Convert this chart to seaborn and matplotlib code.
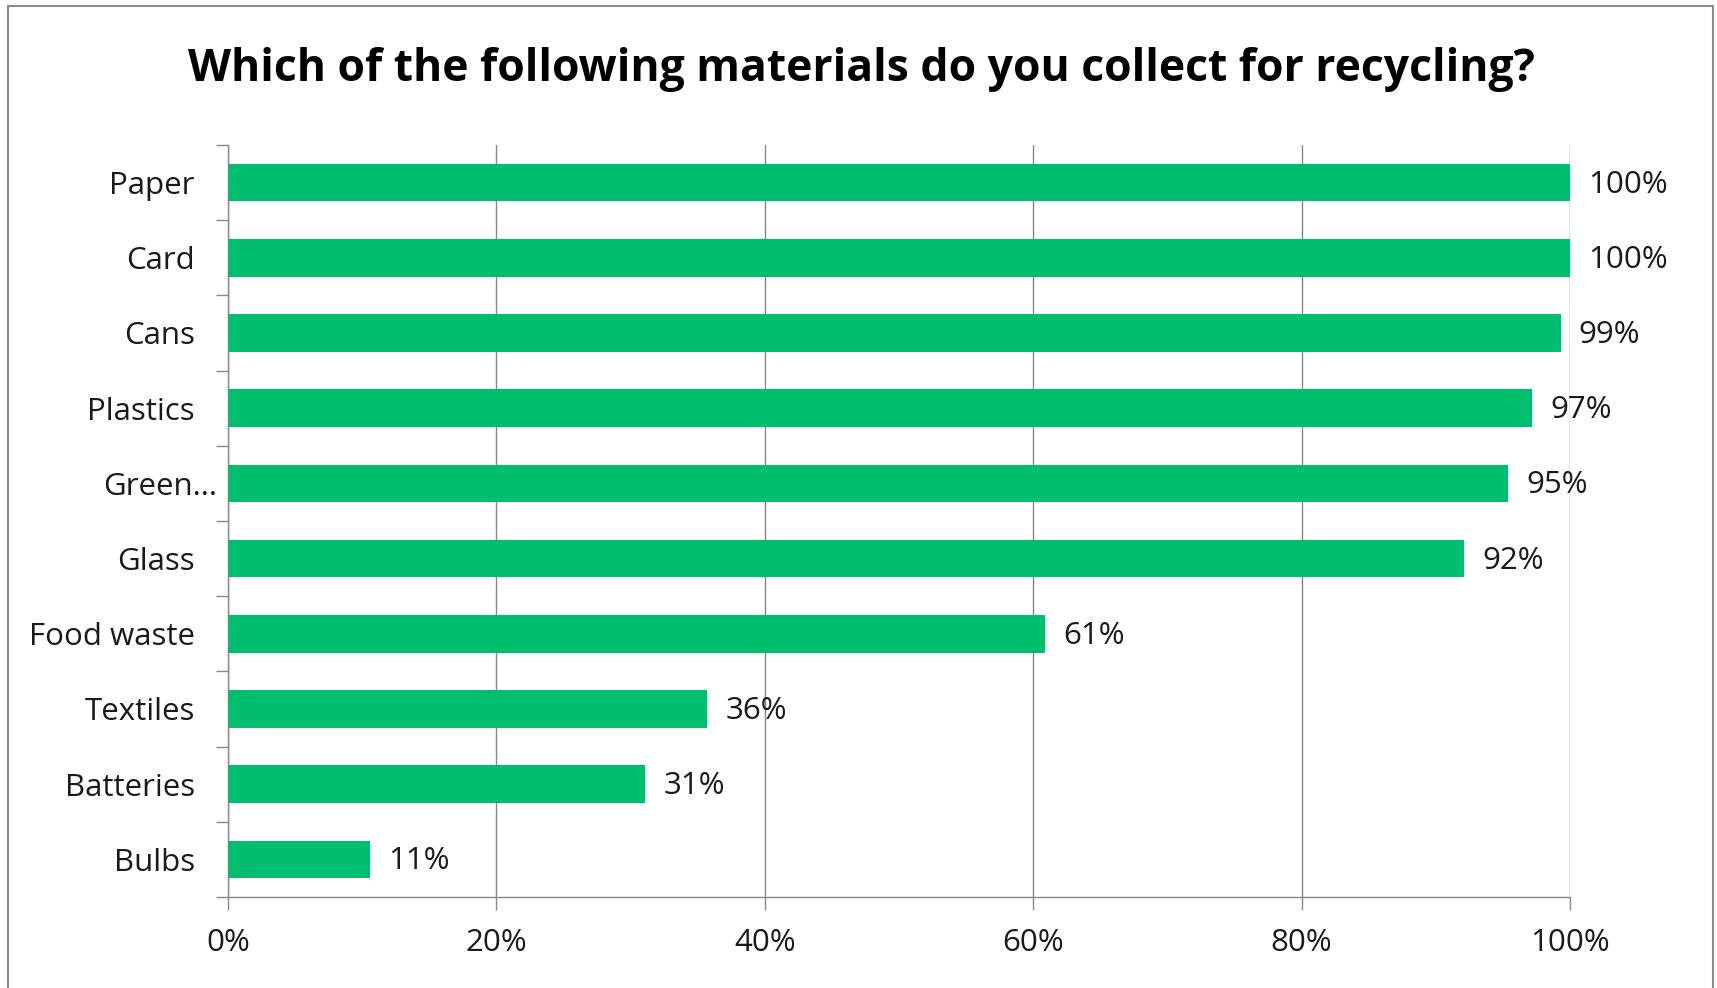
import matplotlib
matplotlib.use("Agg")
import matplotlib.pyplot as plt
import matplotlib.transforms as mtransforms
import seaborn as sns
import pandas as pd
from matplotlib.patches import Rectangle

# ---- data ----
categories = ["Paper", "Card", "Cans", "Plastics", "Green...", "Glass",
              "Food waste", "Textiles", "Batteries", "Bulbs"]
values = [100.0, 100.0, 99.3, 97.2, 95.4, 92.1, 60.9, 35.7, 31.1, 10.6]
x_ticks = [0, 20, 40, 60, 80, 100]
x_tick_labels = ["0%", "20%", "40%", "60%", "80%", "100%"]
title = "Which of the following materials do you collect for recycling?"

BAR_COLOR = "#00BE6E"
GRID_COLOR = "#888888"
TEXT_COLOR = "#1a1a1a"
FS = 22.5

sns.set_theme(style="white")
plt.rcParams["font.family"] = ["Open Sans", "DejaVu Sans"]

df = pd.DataFrame({"category": categories, "value": values})

fig = plt.figure(figsize=(17.17, 9.88), dpi=100)
ax = fig.add_axes([228 / 1717, 1 - 897 / 988, (1570 - 228) / 1717, (897 - 145) / 988])

sns.barplot(data=df, x="value", y="category", orient="h", color=BAR_COLOR,
            width=0.5, linewidth=0, saturation=1, ax=ax, zorder=3)

ax.set_xlim(0, 100)
n = len(categories)
ax.set_ylim(n - 0.5, -0.5)

# x axis
ax.set_xticks(x_ticks)
ax.set_xticklabels(x_tick_labels, fontsize=FS, color=TEXT_COLOR)
ax.tick_params(axis="x", direction="out", length=9, width=1.0, color=GRID_COLOR,
               pad=13, bottom=True)
ax.grid(axis="x", color=GRID_COLOR, linewidth=1.0, zorder=0)
ax.set_axisbelow(True)

# y axis: ticks at category boundaries, labels at centres
ax.set_yticks([i - 0.5 for i in range(n + 1)])
ax.set_yticklabels([])
ax.set_yticks(list(range(n)), minor=True)
ax.set_yticklabels(categories, minor=True, fontsize=FS, color=TEXT_COLOR)
ax.tick_params(axis="y", which="major", direction="out", length=9, width=1.0,
               color=GRID_COLOR, left=True)
ax.tick_params(axis="y", which="minor", length=0, pad=24)

# the truncated label overflows to the right, as in the original
for lbl in ax.get_yticklabels(minor=True):
    if lbl.get_text().endswith("..."):
        lbl.set_transform(lbl.get_transform() +
                          mtransforms.ScaledTranslation(22 / 100, 0, fig.dpi_scale_trans))

ax.set_xlabel("")
ax.set_ylabel("")

for side in ["top", "right"]:
    ax.spines[side].set_visible(False)
for side in ["left", "bottom"]:
    ax.spines[side].set_color(GRID_COLOR)
    ax.spines[side].set_linewidth(1.0)

# data labels
for i, v in enumerate(values):
    ax.annotate(f"{round(v)}%", xy=(v, i), xytext=(13, -1.5), textcoords="offset points",
                ha="left", va="center", fontsize=FS, color=TEXT_COLOR, zorder=5)

# title
fig.text(0.502, 1 - 70 / 988, title, ha="center", va="center",
         fontsize=32, fontweight="bold", color="black")

# outer border
fig.patches.append(Rectangle((8 / 1717, -0.05), (1713 - 8) / 1717, 1.05 - 6 / 988,
                             transform=fig.transFigure, fill=False,
                             edgecolor="#8c8c8c", linewidth=1.5))

fig.savefig("out.png", dpi=100)
